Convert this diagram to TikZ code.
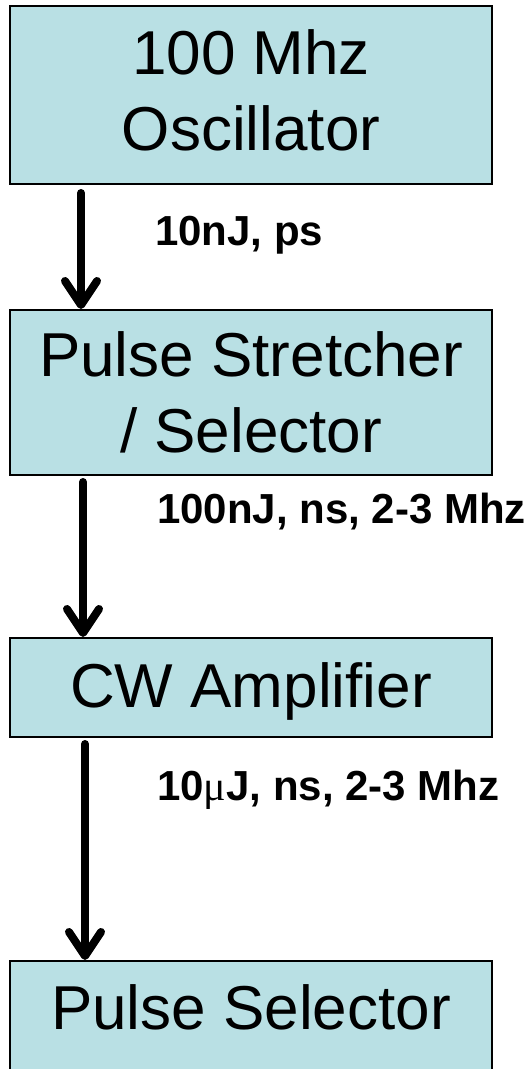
\documentclass[tikz,border=0pt]{standalone}
\usepackage{fontspec}
\setmainfont{Liberation Sans}
\newfontfamily\serifmu{Liberation Serif}
\usetikzlibrary{arrows.meta}
\definecolor{boxfill}{HTML}{B9E0E4}
\tikzset{
  blockbox/.style={draw=black, line width=2pt, fill=boxfill, minimum width=482pt,
    anchor=north, align=center, font=\fontsize{62pt}{76pt}\selectfont, text depth=0pt,
    inner sep=0pt},
  flowarrow/.style={line width=8pt, line cap=round,
    -{Straight Barb[length=24pt, width=32pt, line cap=round, line join=round]}},
  rate/.style={anchor=base west, inner sep=0pt, font=\fontsize{42pt}{50pt}\selectfont\bfseries}
}
\begin{document}
\begin{tikzpicture}[x=1pt,y=1pt]
\useasboundingbox (0,0) rectangle (531,-1069);
\clip (0,0) rectangle (531,-1069);
\node[blockbox, minimum height=178pt, text depth=10pt] (osc) at (251,-5) {100 Mhz\\Oscillator};
\node[blockbox, minimum height=165pt] (str) at (251,-309) {Pulse Stretcher\\/ Selector};
\node[blockbox, minimum height=99pt, text depth=4pt] (amp) at (251,-637) {CW Amplifier};
\node[blockbox, text height=45pt, text depth=100pt, inner ysep=23pt] (sel) at (251,-960) {Pulse Selector};
\coordinate (a1) at ([xshift=72pt,yshift=-8pt]osc.south west);
\coordinate (a2) at ([xshift=74pt,yshift=-6pt]str.south west);
\coordinate (a3) at ([xshift=76pt,yshift=-6pt]amp.south west);
\draw[flowarrow] (a1) -- (a1 |- str.north);
\draw[flowarrow] (a2) -- (a2 |- amp.north);
\draw[flowarrow] (a3) -- (a3 |- sel.north);
\node[rate] (l1) at (155,-245) {10nJ, ps};
\node[rate] (l2) at (157,-523) {100nJ, ns, 2-3 Mhz};
\node[rate] (l3) at (157,-800) {10{\serifmu\mdseries μ}J, ns, 2-3 Mhz};
\end{tikzpicture}
\end{document}
